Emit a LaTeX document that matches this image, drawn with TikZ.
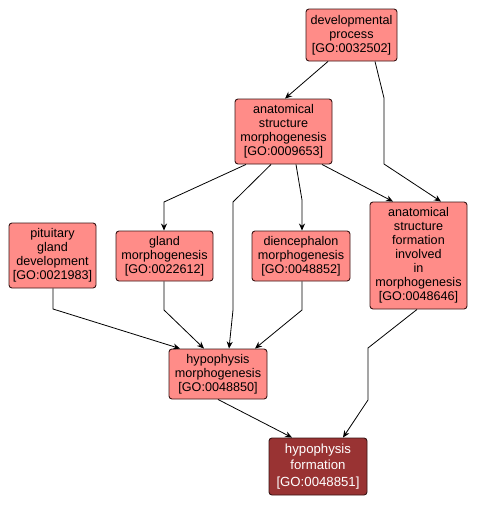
\documentclass[tikz,border=0pt]{standalone}
\usepackage{fontspec}
\setmainfont{Liberation Sans}
\usetikzlibrary{arrows.meta}
\definecolor{lightfill}{HTML}{FF8C88}
\definecolor{darkfill}{HTML}{993333}
\definecolor{boxline}{HTML}{3A1515}
\begin{document}
\begin{tikzpicture}[x=1pt,y=-1pt,
  gobox/.style={draw=boxline, line width=0.9pt, rounded corners=3pt, fill=lightfill,
    align=center, inner sep=0pt, font=\fontsize{12.6}{14}\selectfont},
  darkbox/.style={gobox, fill=darkfill, text=white, font=\fontsize{13.2}{16.5}\selectfont},
  edge/.style={draw=black, line width=0.8pt, -{Stealth[length=7pt,width=6pt]}}]
\useasboundingbox (0,0) rectangle (478,507);
\fill[white] (0,0) rectangle (478,507);

\node[gobox, minimum width=91pt, minimum height=52pt] (dev) at (351.5,35) {developmental\\process\\{[GO:0032502]}};
\node[gobox, minimum width=97pt, minimum height=65pt] (asm) at (283.5,131.5) {anatomical\\structure\\morphogenesis\\{[GO:0009653]}};
\node[gobox, minimum width=97pt, minimum height=107pt] (asf) at (418.5,255.5) {anatomical\\structure\\formation\\involved\\in\\morphogenesis\\{[GO:0048646]}};
\node[gobox, minimum width=87pt, minimum height=65pt] (pit) at (52.5,255.5) {pituitary\\gland\\development\\{[GO:0021983]}};
\node[gobox, minimum width=97pt, minimum height=50pt] (gland) at (164.5,256) {gland\\morphogenesis\\{[GO:0022612]}};
\node[gobox, minimum width=98pt, minimum height=50pt] (dien) at (301,256) {diencephalon\\morphogenesis\\{[GO:0048852]}};
\node[gobox, minimum width=98pt, minimum height=50pt] (hypm) at (218,374) {hypophysis\\morphogenesis\\{[GO:0048850]}};
\node[darkbox, minimum width=98pt, minimum height=57pt] (hf) at (318,466.5) {hypophysis\\formation\\{[GO:0048851]}};

\draw[edge] ([xshift=-23.5pt]dev.south) -- ([xshift=1.5pt]asm.north);
\draw[edge] ([xshift=23.5pt]dev.south) -- (384,98) -- (384,164) -- ([xshift=22.5pt]asf.north);
\draw[edge] ([xshift=-37.5pt]asm.south) -- (164,202) -- ([xshift=-0.5pt]gland.north);
\draw[edge] ([xshift=-12.5pt]asm.south) -- (233,202) -- (233,310) -- ([xshift=11pt]hypm.north);
\draw[edge] ([xshift=12.5pt]asm.south) -- (302,200) -- ([xshift=1pt]dien.north);
\draw[edge] ([xshift=38.5pt]asm.south) -- ([xshift=-25.5pt]asf.north);
\draw[edge] ([xshift=0.5pt]pit.south) -- (53,309) -- ([xshift=-38pt]hypm.north);
\draw[edge] ([xshift=-0.5pt]gland.south) -- (164,310) -- ([xshift=-14pt]hypm.north);
\draw[edge] ([xshift=1pt]dien.south) -- (302,310) -- ([xshift=37pt]hypm.north);
\draw[edge] ([xshift=-1.5pt]asf.south) -- (368,348) -- (368,400) -- ([xshift=25pt]hf.north);
\draw[edge] (hypm.south) -- ([xshift=-26pt]hf.north);
\end{tikzpicture}
\end{document}
